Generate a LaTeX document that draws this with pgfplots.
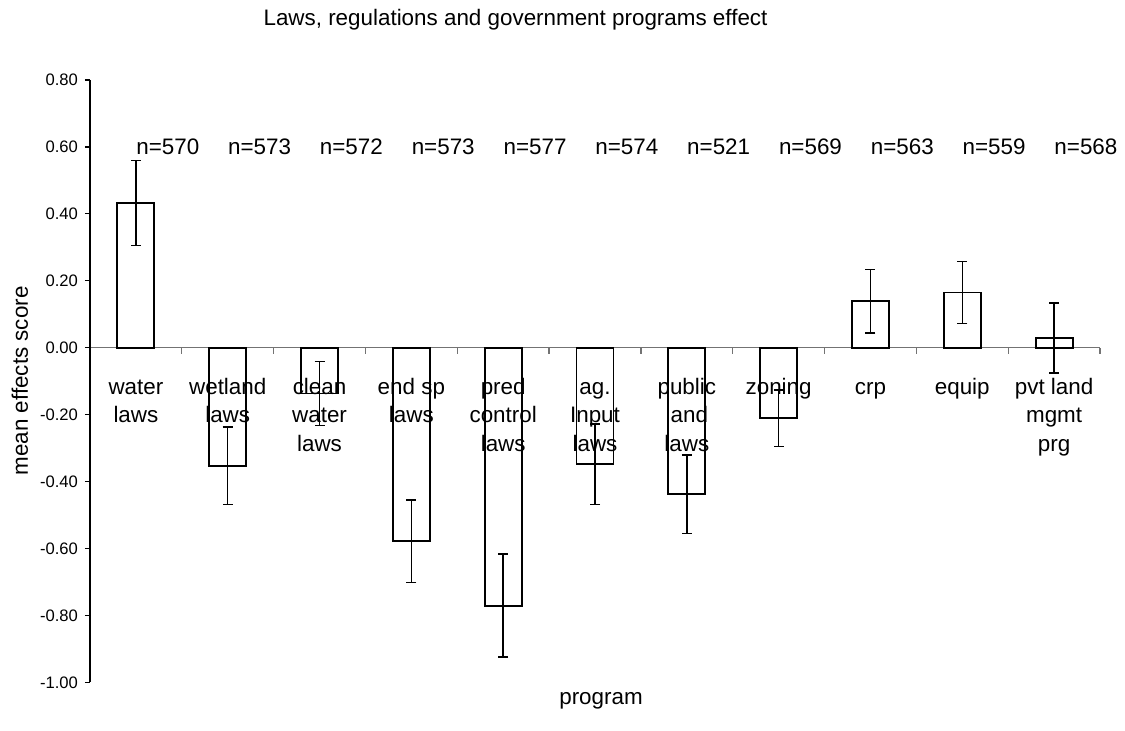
\documentclass[border=0pt]{standalone}
\usepackage{fontspec}
\setmainfont{Liberation Sans}
\usepackage{pgfplots}
\usepackage{pgfplotstable}
\pgfplotsset{compat=1.18}
\pgfplotstableread{
x y e n
0 0.432 0.127 570
1 -0.353 0.116 573
2 -0.137 0.095 572
3 -0.578 0.123 573
4 -0.771 0.154 577
5 -0.348 0.120 574
6 -0.438 0.118 521
7 -0.211 0.085 569
8 0.139 0.095 563
9 0.165 0.092 559
10 0.029 0.104 568
}\datatable
\newcommand\bigfont{\fontsize{11.2}{14.25}\selectfont}
\newcommand\tickfont{\fontsize{8.3}{10}\selectfont}
\newcommand\cl[1]{\vtop{\baselineskip=14.25pt\halign{\hfil##\hfil\cr#1\crcr}}}
\begin{document}
\begin{tikzpicture}
\path[use as bounding box] (-45pt,-23.85pt) rectangle (517.5pt,341.15pt);
\begin{axis}[
  at={(0pt,0pt)}, anchor=south west,
  scale only axis, width=505pt, height=301.15pt,
  xmin=-0.5, xmax=10.5, ymin=-1, ymax=0.8,
  axis y line*=left, axis x line*=middle,
  hide obscured x ticks=false, hide obscured y ticks=false,
  x axis line style={draw=black!55, line width=0.7pt},
  y axis line style={draw=black, line width=0.7pt},
  ybar, bar width=18.5pt,
  xtick={0,...,10},
  xticklabels={{\cl{water\cr laws}},{\cl{wetland\cr laws}},{\cl{clean\cr water\cr laws}},{\cl{end sp\cr laws}},{\cl{pred\cr control\cr laws}},{\cl{ag.\cr Input\cr laws}},{\cl{public\cr land\cr laws}},{\cl{zoning}},{\cl{crp}},{\cl{equip}},{\cl{pvt land\cr mgmt\cr prg}}},
  xticklabel style={anchor=base, font=\bigfont, inner sep=0pt, yshift=-20.7pt},
  major x tick style={draw=none},
  minor xtick={0.5,1.5,...,10.5},
  minor x tick style={draw=black!55, line width=0.6pt},
  xtick align=outside,
  minor tick length=3pt,
  ytick={-1,-0.8,-0.6,-0.4,-0.2,0,0.2,0.4,0.6,0.8},
  ytick align=outside, major tick length=2.5pt,
  major y tick style={black, line width=0.6pt},
  yticklabel style={font=\tickfont, /pgf/number format/fixed, /pgf/number format/fixed zerofill, /pgf/number format/precision=2, /pgf/number format/assume math mode=true},
  clip=false,
]
\addplot[draw=black, fill=none, line width=0.95pt,
  error bars/.cd, y dir=both, y explicit,
  error bar style={line width=0.75pt, black, solid},
  error mark options={rotate=90, mark size=2.5pt, line width=0.75pt, black}]
  table[x=x, y=y, y error=e] {\datatable};
\foreach \i/\n in {0/570,1/573,2/572,3/573,4/577,5/574,6/521,7/569,8/563,9/559,10/568}{
  \edef\temp{\noexpand\node[anchor=west, inner sep=0pt, font=\noexpand\bigfont] at (axis cs:\i,0.60) {n=\n};}
  \temp
}
\end{axis}
\node[anchor=base, font=\bigfont] at (212.75pt,328.15pt) {Laws, regulations and government programs effect};
\node[anchor=base, font=\bigfont] at (255.5pt,-10.85pt) {program};
\node[anchor=base, rotate=90, font=\bigfont] at (-31pt,150.7pt) {mean effects score};
\end{tikzpicture}
\end{document}
